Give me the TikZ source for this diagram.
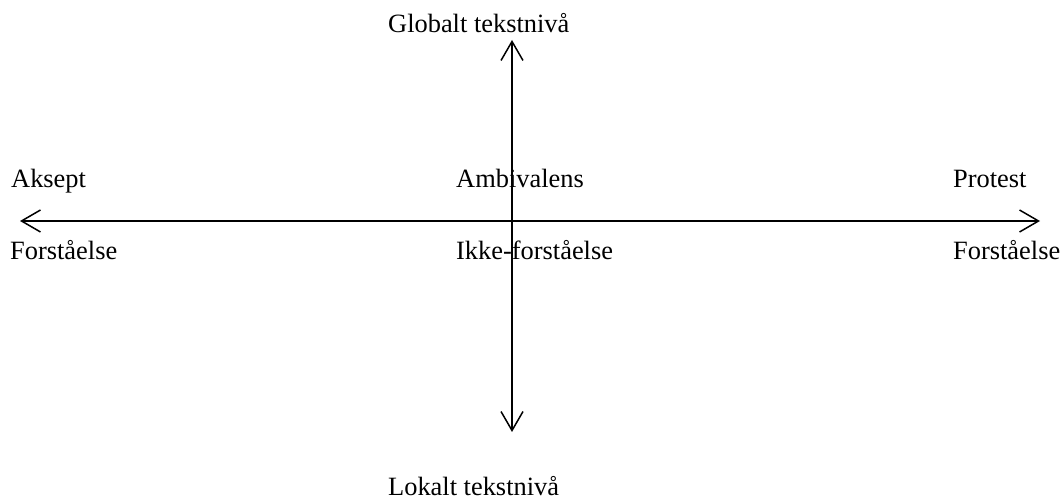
\documentclass[tikz,border=0pt]{standalone}
\usepackage{fontspec}
\setmainfont{Liberation Serif}
\usetikzlibrary{arrows.meta}
\begin{document}
\begin{tikzpicture}[x=1pt,y=1pt,
  lbl/.style={anchor=base west,inner sep=0pt,font=\fontsize{26.4}{30}\selectfont},
  tip/.style={Straight Barb[length=19pt,width=22pt,line width=1.5pt]},
  axis/.style={line width=1.5pt,{Straight Barb[length=19pt,width=22pt,line width=1.5pt]}-{Straight Barb[length=19pt,width=22pt,line width=1.5pt]}}]
\useasboundingbox (0,0) rectangle (1063,500);
% labels (y = 500 - pixel row)
\node[lbl] (glob) at (388,467) {Globalt tekstnivå};
\node[lbl] (lok) at (388,4) {Lokalt tekstnivå};
\node[lbl] (aks) at (11,312) {Aksept};
\node[lbl] (amb) at (456,312) {Ambivalens};
\node[lbl] (pro) at (953,312) {Protest};
\node[lbl] (f1) at (10,240) {Forståelse};
\node[lbl] (ikke) at (456,240) {Ikke-forståelse};
\node[lbl] (f2) at (953,240) {Forståelse};
% axes
\coordinate (L) at (20,279);
\coordinate (R) at (1040,279);
\coordinate (T) at (512,460);
\coordinate (B) at (512,68);
\draw[axis] (L) -- (R);
\draw[axis] (B) -- (T);
\end{tikzpicture}
\end{document}
